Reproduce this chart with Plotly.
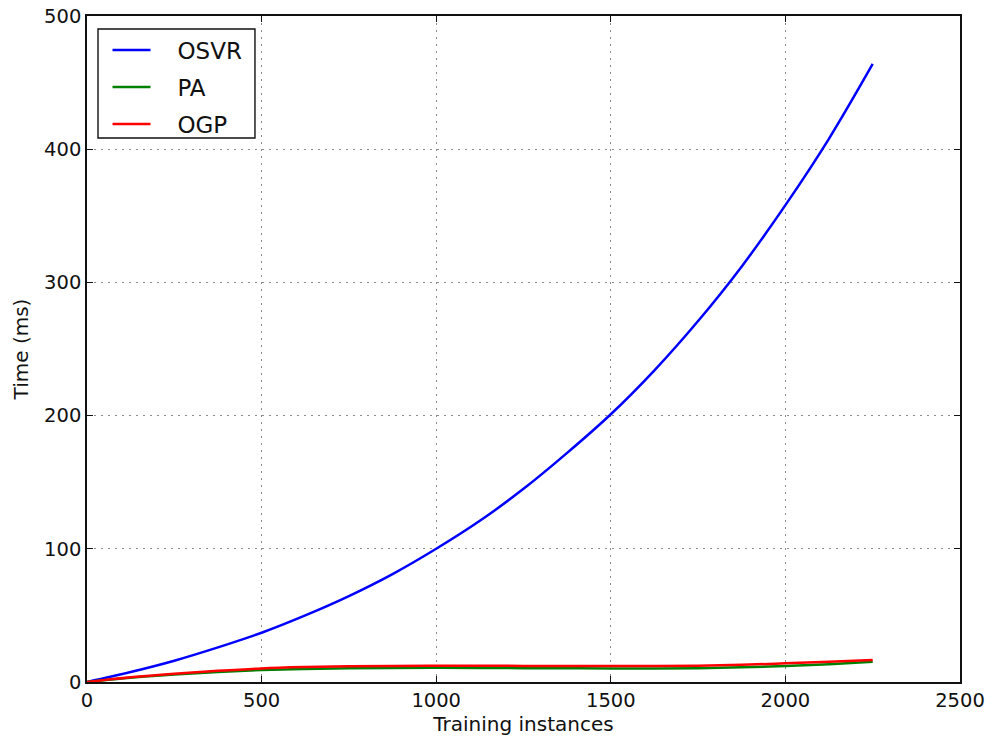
import plotly.graph_objects as go

x_osvr = [0, 125, 250, 375, 500, 625, 750, 875, 1000, 1125, 1250, 1375, 1500, 1625, 1750, 1875, 2000, 2125, 2250]
y_osvr = [0, 7.5, 16, 26, 37, 50, 64.5, 81, 100, 121, 145, 172, 201, 234, 271, 312, 358, 408, 464]

x_low = [0, 125, 250, 375, 500, 625, 750, 875, 1000, 1125, 1250, 1375, 1500, 1625, 1750, 1875, 2000, 2125, 2250]
y_pa = [0, 3.2, 5.6, 7.6, 9.0, 9.8, 10.3, 10.6, 10.7, 10.6, 10.4, 10.3, 10.2, 10.2, 10.4, 11.0, 12.0, 13.4, 15.2]
y_ogp = [0, 3.5, 6.2, 8.4, 10.2, 11.2, 11.8, 12.1, 12.2, 12.2, 12.1, 12.0, 12.0, 12.0, 12.2, 12.9, 14.0, 15.2, 16.5]

NB = "\u00a0"
fig = go.Figure()
fig.add_trace(go.Scatter(x=x_osvr, y=y_osvr, mode="lines", name=NB * 3 + "OSVR", legendgroup="a",
                         line=dict(color="#0000ff", width=2.5, shape="spline")))
fig.add_trace(go.Scatter(x=x_low, y=y_pa, mode="lines", name=NB * 3 + "PA", legendgroup="b",
                         line=dict(color="#008000", width=2.5, shape="spline")))
fig.add_trace(go.Scatter(x=x_low, y=y_ogp, mode="lines", name=NB * 3 + "OGP", legendgroup="c",
                         line=dict(color="#ff0000", width=2.5, shape="spline")))

axis_common = dict(showline=True, linecolor="#111111", linewidth=1.6, mirror="ticks",
                   ticks="inside", ticklen=6, tickcolor="#111111", automargin=False,
                   ticklabeloverflow="allow",
                   showgrid=True, gridcolor="#8c8c8c", griddash="2px,5px", gridwidth=1.2,
                   zeroline=False, tickfont=dict(size=19.5, color="#111111"))

# legend frame
fig.add_shape(type="rect", xref="paper", yref="paper",
              x0=0.0126, x1=0.1924, y0=0.8168, y1=0.9805,
              line=dict(color="#111111", width=1.4), fillcolor="white", layer="above")

fig.update_layout(
    width=992, height=739,
    margin=dict(l=87, r=32, t=16, b=57),
    paper_bgcolor="white", plot_bgcolor="white",
    font=dict(family="DejaVu Sans", color="#111111"),
    showlegend=True,
    legend=dict(x=0.0235, y=0.981, xanchor="left", yanchor="top",
                borderwidth=0, bgcolor="rgba(0,0,0,0)",
                font=dict(size=23, color="#111111"), tracegroupgap=4,
                itemwidth=38),
    xaxis=dict(range=[0, 2500], tickvals=[0, 500, 1000, 1500, 2000, 2500],
               title=dict(text="Training instances", font=dict(size=20), standoff=1),
               **axis_common),
    yaxis=dict(range=[0, 500], tickvals=[0, 100, 200, 300, 400, 500],
               title=dict(text="Time (ms)", font=dict(size=20), standoff=10),
               **axis_common),
)

fig.write_html("out.html",
               config={"displayModeBar": False},
               post_script="document.body.style.margin='0';document.body.style.overflow='hidden';")
